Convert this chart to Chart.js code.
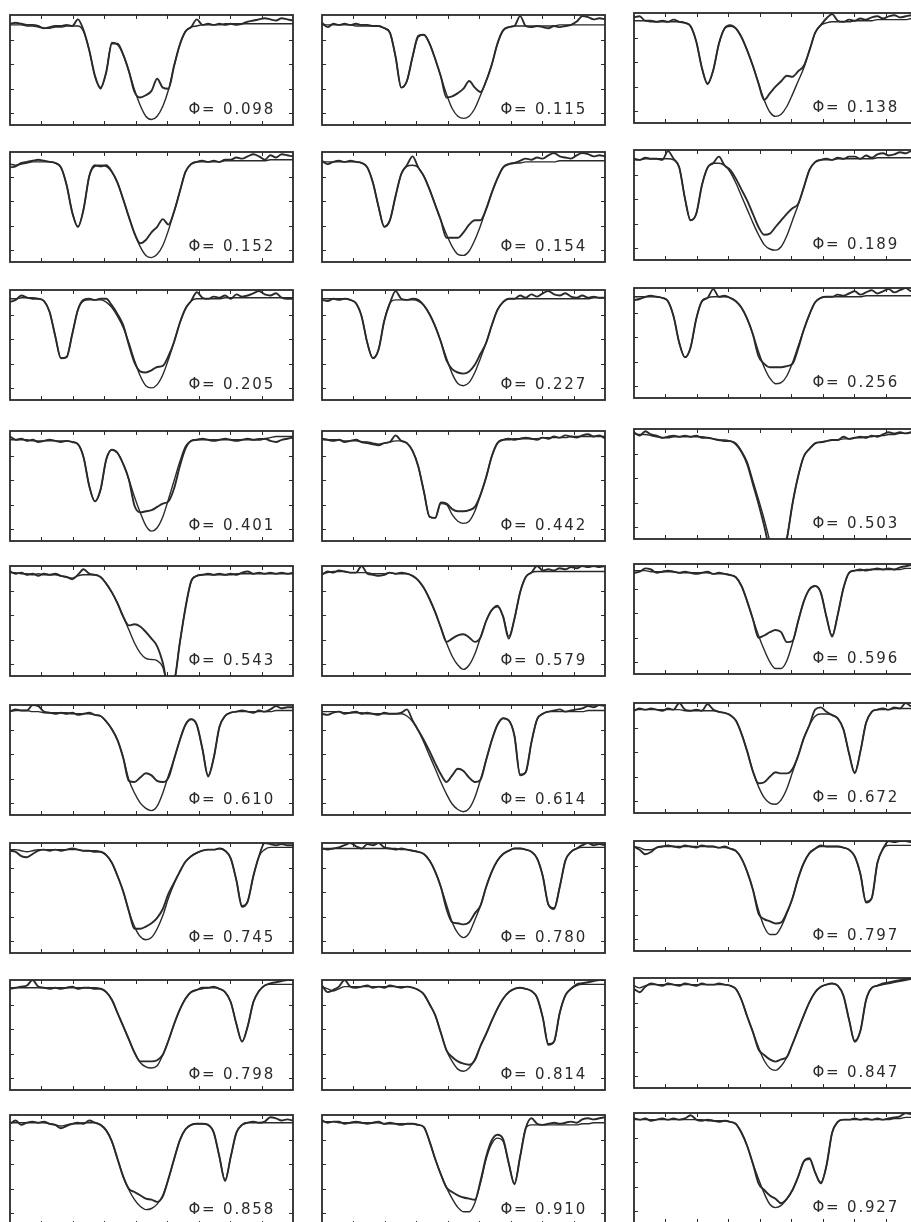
<!DOCTYPE html>
<html>
<head>
<meta charset="utf-8">
<script src="https://cdn.jsdelivr.net/npm/chart.js@4.4.0/dist/chart.umd.min.js"></script>
<style>
html,body{margin:0;padding:0;background:#ffffff;overflow:hidden;width:911px;height:1222px;}
canvas{position:absolute;}
</style>
</head>
<body>
<script>
// velocity grid (km/s) shared by every panel
const velocity = [-450,-432,-414,-396,-378,-360,-342,-324,-306,-288,-270,-252,-234,-216,-198,-180,-162,-144,-126,-108,-90,-72,-54,-36,-18,0,18,36,54,72,90,108,126,144,162,180,198,216,234,252,270,288,306,324,342,360,378,396,414,432,450];
const xTicks = [-350,-250,-150,-50,50,150,250,350];
const yTicks = [11,33,55,77];
const phases = ['0.098','0.115','0.138','0.152','0.154','0.189','0.205','0.227','0.256','0.401','0.442','0.503','0.543','0.579','0.596','0.610','0.614','0.672','0.745','0.780','0.797','0.798','0.814','0.847','0.858','0.910','0.927'];

// model (m) and observed (o) normalised profiles, % of panel height
const m098 = [91,91,91,90,90,89,88,88,89,89, 90,90,90,85,68,44,33,48,75,73, 64,49,32,18,8,5,8,17,32,54, 73,85,89,90,91,91,91,91,92,92, 92,92,92,92,92,92,92,92,92,92, 92];
const o098 = [92,93,92,91,91,90,88,89,90,90, 91,90,96,86,68,45,34,48,74,74, 64,49,30,25,27,31,42,34,33,54, 73,85,89,96,91,92,91,92,91,92, 91,92,94,95,96,97,96,95,97,96, 95];
const m115 = [91,91,91,91,91,91,90,90,90,90, 90,88,84,62,34,40,62,80,82,74, 60,44,28,15,8,6,8,15,27,40, 55,74,86,89,90,90,90,90,90,90, 90,90,91,91,91,91,91,91,91,91, 91];
const o115 = [93,89,92,91,92,91,92,91,91,90, 90,88,84,62,34,40,62,81,82,74, 60,44,25,26,29,33,40,34,30,40, 55,74,86,89,90,99,90,89,90,89, 88,90,89,90,91,94,99,98,96,97, 96];
const m138 = [93,93,93,92,92,92,92,92,92,91, 88,74,50,35,48,72,86,88,86,78, 66,52,36,21,10,6,8,15,26,38, 50,66,82,89,91,92,92,92,92,93, 93,93,93,94,94,94,94,94,94,95, 95];
const o138 = [96,97,93,93,92,93,92,94,92,91, 88,74,50,36,48,72,86,89,86,78, 66,52,36,21,27,33,38,43,42,47, 52,66,82,89,95,99,93,92,94,93, 95,94,96,97,95,97,98,96,97,98, 98];
const m152 = [89,88,89,90,91,91,91,91,90,86, 70,45,32,48,78,87,88,87,82,72, 57,41,26,14,6,4,7,15,29,46, 64,82,89,91,91,91,91,91,92,92, 92,92,92,92,92,92,93,93,93,93, 93];
const o152 = [86,87,90,91,92,93,92,91,90,86, 70,45,32,48,78,88,87,88,82,72, 57,41,26,17,20,27,32,39,34,46, 64,82,89,91,92,91,92,91,93,93, 95,94,96,98,96,93,97,95,98,97, 96];
const m154 = [91,91,91,91,91,91,91,90,86,72, 50,32,38,60,80,87,88,86,78,66, 52,38,25,14,7,6,10,20,33,48, 63,76,86,89,90,90,91,91,91,91, 91,91,92,92,92,92,92,92,92,92, 92];
const o154 = [92,89,91,92,91,92,91,90,86,72, 50,32,38,60,80,88,96,86,78,66, 52,38,22,22,22,27,34,38,38,48, 63,76,86,89,90,92,94,93,95,94, 97,99,96,95,94,97,99,98,96,97, 96];
const m189 = [91,91,92,92,92,92,92,91,84,56, 36,42,68,84,88,88,86,80,70,58, 46,34,23,14,10,9,12,22,36,50, 66,82,89,91,91,91,92,92,92,92, 92,92,92,93,93,93,93,93,93,93, 93];
const o189 = [92,91,93,92,92,91,99,92,84,56, 36,42,68,84,88,94,86,82,74,64, 54,42,30,23,24,30,36,42,47,51, 66,82,89,91,92,91,93,92,94,94, 92,95,93,96,97,95,96,98,97,99, 97];
const m205 = [92,92,93,93,93,92,90,80,58,38, 39,60,82,90,91,91,91,89,84,76, 66,52,36,22,13,11,14,23,37,53, 70,83,90,92,92,92,92,92,93,93, 93,93,93,93,93,93,93,93,93,93, 93];
const o205 = [89,91,95,93,92,92,90,80,58,38, 39,60,82,91,92,91,92,92,86,78, 68,50,34,26,25,27,30,31,40,53, 70,83,90,98,93,92,94,93,95,92, 96,94,95,97,99,96,95,97,93,92, 92];
const m227 = [92,92,92,92,92,91,88,76,52,38, 46,72,88,91,91,91,91,90,86,78, 67,53,38,24,15,13,16,25,38,52, 68,82,89,92,92,92,92,92,92,92, 92,92,92,92,92,92,92,92,93,93, 93];
const o227 = [91,90,92,91,92,91,88,76,52,38, 46,72,88,99,92,91,92,91,86,78, 67,53,36,28,25,24,26,32,42,52, 68,82,89,92,92,95,93,96,94,97, 99,96,95,97,94,93,95,93,94,93, 93];
const m256 = [92,92,92,92,92,91,88,74,50,37, 46,72,88,91,92,92,92,91,88,82, 72,58,42,28,18,13,14,20,32,47, 62,76,87,91,92,92,92,92,92,92, 92,93,93,93,93,93,93,93,93,93, 93];
const o256 = [89,90,92,93,92,91,88,74,50,37, 46,72,88,91,99,92,93,91,88,82, 72,58,38,31,28,28,28,29,31,45, 62,76,87,91,92,92,94,93,95,97, 94,96,98,95,97,99,96,98,100,97, 98];
const m401 = [92,92,92,92,91,91,91,91,91,91, 91,90,88,76,50,36,46,74,83,80, 70,56,40,26,14,9,12,22,38,55, 72,86,91,92,92,92,92,92,92,92, 92,92,92,92,93,93,94,95,95,95, 95];
const o401 = [95,92,93,91,92,90,91,92,91,90, 91,90,88,76,50,36,47,74,83,80, 70,56,32,26,27,28,31,34,36,48, 68,84,91,92,93,92,91,92,93,92, 91,92,93,92,92,93,91,90,92,93, 94];
const m442 = [92,92,92,92,91,91,91,90,90,89, 88,89,90,91,91,89,82,68,45,22, 21,34,33,24,18,16,18,27,42,58, 77,89,92,92,93,93,93,93,93,94, 94,94,94,94,95,95,95,95,95,95, 95];
const o442 = [93,92,91,92,90,91,92,90,89,88, 87,89,90,96,91,89,82,68,45,22, 21,35,34,29,27,27,28,31,42,58, 77,89,92,93,92,93,94,93,92,94, 93,95,94,96,95,94,96,97,95,96, 93];
const m503 = [96,95,95,94,93,92,92,93,93,93, 93,93,93,92,91,90,90,89,87,80, 70,53,36,18,-2,-20,-20,0,32,57, 75,82,87,88,89,90,90,91,91,92, 92,93,93,94,94,95,95,96,96,97, 97];
const o503 = [97,94,98,95,94,92,93,94,93,94, 93,94,92,92,91,90,89,89,86,79, 68,50,32,12,-10,-20,-20,0,32,57, 75,82,87,88,89,90,90,93,91,92, 93,92,94,93,95,97,96,97,96,97, 98];
const m543 = [94,94,93,93,92,93,92,92,92,91, 90,89,91,92,92,92,90,84,76,66, 54,42,30,21,16,15,14,8,-10,-5, 30,62,86,91,92,92,92,92,92,92, 93,93,93,93,93,93,93,93,93,93, 93];
const o543 = [95,93,94,92,93,91,93,92,93,91, 90,88,92,97,93,92,90,84,76,66, 54,46,47,45,40,34,27,12,-10,-5, 30,62,86,91,92,93,92,93,92,93, 92,94,95,93,94,93,94,93,94,93, 94];
const m579 = [93,94,95,95,95,94,94,94,94,93, 93,93,94,93,93,93,91,87,80,70, 58,44,30,18,10,6,10,20,35,50, 60,63,54,36,52,76,90,94,95,95, 95,95,95,95,95,95,95,95,95,95, 95];
const o579 = [92,95,94,96,95,94,94,100,93,92, 91,92,94,93,94,93,91,87,80,70, 58,44,31,34,37,38,35,31,35,50, 60,64,54,34,52,76,90,94,100,96, 97,96,98,97,99,98,100,99,100,99, 100];
const m596 = [94,94,94,93,93,93,93,93,92,92, 92,92,92,92,91,91,91,90,88,80, 66,50,35,22,11,5,5,12,28,48, 66,77,80,74,52,35,54,78,92,94, 94,95,95,95,95,95,95,95,96,96, 96];
const o596 = [92,93,96,95,92,93,94,93,92,93, 92,91,92,93,91,92,91,90,88,80, 66,50,33,35,38,40,38,29,30,48, 66,77,80,74,52,34,54,78,92,94, 95,94,95,96,95,96,95,97,98,99, 98];
const m610 = [94,95,95,95,94,94,93,93,93,93, 93,92,92,92,92,91,90,85,78,68, 52,32,20,11,6,4,8,20,36,51, 68,82,87,82,60,36,52,80,90,93, 94,94,94,94,94,94,94,95,95,95, 95];
const o610 = [94,96,95,95,100,99,94,93,92,93, 92,93,91,92,93,91,90,85,78,68, 52,31,30,34,38,36,31,30,34,51, 68,82,87,82,60,35,52,80,90,93, 94,95,94,93,95,94,96,99,97,98, 98];
const m614 = [94,94,94,94,93,93,93,93,92,92, 92,92,92,92,92,90,85,77,66,54, 42,30,19,10,5,3,6,16,32,50, 68,82,88,86,72,37,39,66,87,92, 94,94,94,94,94,94,94,95,95,95, 95];
const o614 = [92,91,93,94,92,93,94,92,93,92, 91,93,92,92,93,96,86,77,68,58, 47,37,30,36,42,40,34,30,32,50, 68,82,88,86,72,36,39,66,87,92, 94,95,96,94,95,96,97,99,98,100, 99];
const m672 = [94,94,94,94,94,94,94,94,94,93, 93,93,93,93,93,92,91,89,84,72, 56,38,24,14,9,8,12,22,37,52, 68,80,88,90,90,89,86,76,54,37, 56,82,92,94,94,94,95,95,95,95, 95];
const o672 = [93,95,94,95,94,93,95,94,100,94, 93,94,93,99,94,92,91,89,84,72, 56,38,27,28,33,37,36,36,40,52, 68,80,94,96,92,89,86,76,54,36, 56,82,92,94,95,94,96,95,100,97, 98];
const m745 = [94,94,93,92,93,94,94,94,94,94, 94,94,94,93,93,93,92,89,82,70, 56,38,24,15,12,14,22,34,50,63, 74,83,88,91,93,94,94,95,93,86, 66,43,47,70,88,94,96,96,96,96, 96];
const o745 = [93,92,88,87,90,93,94,93,94,93, 94,95,94,93,93,92,92,89,82,70, 56,38,22,22,24,27,32,40,54,64, 74,83,88,91,93,94,94,95,93,86, 66,42,47,70,88,100,99,98,99,98, 98];
const m780 = [95,95,95,95,95,95,95,95,95,95, 95,95,95,95,94,94,93,92,90,84, 74,60,44,28,18,14,18,30,43,60, 74,84,90,93,95,95,94,92,86,70, 44,41,60,84,92,95,96,96,96,96, 96];
const o780 = [95,94,95,96,98,100,97,95,99,98, 100,96,95,94,95,94,93,92,90,84, 74,60,40,28,27,26,28,36,43,60, 74,84,90,93,95,95,94,92,86,70, 44,40,60,84,92,95,98,100,98,99, 98];
const m797 = [95,94,92,92,94,95,95,95,95,95, 95,95,95,95,95,94,94,93,91,84, 72,56,37,22,15,15,22,34,48,66, 80,89,93,95,95,95,95,94,92,86, 70,45,48,80,93,96,96,96,96,96, 96];
const o797 = [95,92,88,90,94,95,96,95,94,96, 95,94,96,95,95,94,95,93,91,84, 72,56,34,29,27,25,26,35,48,66, 80,89,93,96,95,95,95,94,92,86, 70,44,48,80,93,100,99,100,100,99, 100];
const m798 = [93,93,93,93,93,93,93,93,93,93, 93,93,93,93,93,93,92,89,82,70, 58,46,34,25,21,20,22,32,45,60, 73,83,89,91,92,93,93,92,89,80, 60,44,58,80,90,95,96,96,96,96, 96];
const o798 = [92,93,94,95,100,94,93,92,93,92, 93,94,92,93,93,92,92,89,82,70, 58,46,34,26,26,26,27,32,45,60, 73,83,89,91,93,93,94,92,89,80, 60,44,58,80,90,95,97,98,99,100, 100];
const m814 = [94,92,90,92,94,94,94,94,94,94, 94,94,94,94,94,94,93,91,87,78, 68,52,36,26,19,17,20,28,40,51, 63,74,83,89,92,93,92,90,84,66, 42,44,70,86,92,95,96,96,96,96, 96];
const o814 = [95,89,91,94,100,94,93,94,95,93, 94,93,95,94,93,94,93,91,87,78, 68,52,36,30,26,24,23,27,40,51, 63,74,83,89,92,93,92,90,84,66, 41,44,70,86,92,96,97,98,99,100, 100];
const m847 = [93,91,93,94,94,94,94,94,94,94, 94,94,94,94,94,94,94,93,90,80, 65,51,37,25,18,16,20,28,40,53, 66,78,87,92,94,95,93,84,62,43, 52,80,91,93,94,95,96,97,98,99, 100];
const o847 = [90,87,92,95,94,93,95,94,93,95, 94,93,95,94,94,95,94,93,90,80, 65,51,35,30,26,24,26,28,40,53, 66,78,87,92,94,95,93,84,62,42, 52,80,91,93,95,96,97,98,99,100, 100];
const m858 = [93,93,93,93,93,93,93,92,91,90, 91,92,92,93,93,93,91,86,76,60, 44,32,23,17,14,15,19,27,42,60, 77,87,91,92,92,91,84,62,41,62, 84,91,93,93,93,93,93,93,93,93, 93];
const o858 = [92,95,91,93,94,93,94,92,91,88, 90,92,93,92,95,93,91,86,76,60, 44,33,30,27,24,23,21,26,42,60, 77,87,91,92,92,91,84,62,40,62, 84,91,93,94,93,94,98,97,95,96, 95];
const m910 = [94,94,94,93,93,93,93,93,93,93, 93,92,92,92,92,92,92,91,89,76, 60,46,34,24,16,12,12,20,38,60, 74,79,76,56,38,62,88,91,91,91, 91,91,91,91,91,91,92,92,93,93, 93];
const o910 = [95,93,94,94,92,93,94,93,92,93, 94,92,93,92,91,92,92,91,89,76, 60,46,34,30,27,25,24,23,40,62, 77,82,78,56,37,62,88,97,92,91, 92,93,92,93,94,93,96,97,96,97, 98];
const m927 = [94,94,94,94,94,94,94,94,94,94, 94,94,94,93,93,93,93,92,90,82, 70,54,40,27,17,14,16,22,30,42, 56,58,46,37,52,82,92,94,94,94, 94,94,94,94,94,94,95,95,96,96, 97];
const o927 = [95,94,95,93,94,95,94,95,94,95, 98,94,93,94,93,92,93,92,90,82, 70,54,36,30,25,22,18,22,30,42, 56,59,46,36,52,82,92,94,94,95, 94,95,94,95,94,95,96,97,100,99, 100];

const models = [m098,m115,m138,m152,m154,m189,m205,m227,m256,m401,m442,m503,m543,m579,m596,m610,m614,m672,m745,m780,m797,m798,m814,m847,m858,m910,m927];
const observed = [o098,o115,o138,o152,o154,o189,o205,o227,o256,o401,o442,o503,o543,o579,o596,o610,o614,o672,o745,o780,o797,o798,o814,o847,o858,o910,o927];

const colLeft = [10, 322, 634];
const rowTop = [15, 152, 290, 431, 566, 705, 843, 980, 1115];
const boxW = 283, boxH = 110;
const ink = '#2a2a2a';

const framePlugin = {
  id: 'frame',
  afterDraw(chart, args, opts) {
    const {ctx, chartArea: a, scales: {x, y}} = chart;
    ctx.save();
    ctx.strokeStyle = ink;
    ctx.lineWidth = 1;
    ctx.beginPath();
    x.ticks.forEach(t => {
      const px = Math.round(x.getPixelForValue(t.value)) + 0.5;
      ctx.moveTo(px, a.bottom); ctx.lineTo(px, a.bottom - 4);
      ctx.moveTo(px, a.top); ctx.lineTo(px, a.top + 4);
    });
    y.ticks.forEach(t => {
      const py = Math.round(y.getPixelForValue(t.value)) + 0.5;
      ctx.moveTo(a.left, py); ctx.lineTo(a.left + 4, py);
      ctx.moveTo(a.right, py); ctx.lineTo(a.right - 4, py);
    });
    ctx.stroke();
    ctx.lineWidth = 1.8;
    ctx.strokeRect(a.left, a.top, a.right - a.left, a.bottom - a.top);
    ctx.fillStyle = '#2a2a2a';
    ctx.font = '15px "DejaVu Sans"';
    ctx.letterSpacing = '1.8px';
    ctx.textAlign = 'right';
    ctx.textBaseline = 'alphabetic';
    ctx.fillText(opts.label, a.right - 18, a.bottom - 11);
    ctx.restore();
  }
};

phases.forEach((ph, i) => {
  const r = Math.floor(i / 3), c = i % 3;
  const cv = document.createElement('canvas');
  cv.width = boxW + 4; cv.height = boxH + 4;
  cv.style.left = (colLeft[c] - 2) + 'px';
  cv.style.top = (rowTop[r] - 2 - (c === 2 ? 2 : 0)) + 'px';
  document.body.appendChild(cv);
  const mod = models[i], obs = observed[i];
  new Chart(cv, {
    type: 'line',
    data: {
      datasets: [
        { data: velocity.map((v, k) => ({x: v, y: mod[k]})), borderColor: ink, borderWidth: 1.4, pointRadius: 0, cubicInterpolationMode: 'monotone' },
        { data: velocity.map((v, k) => ({x: v, y: obs[k]})), borderColor: ink, borderWidth: 1.9, pointRadius: 0, cubicInterpolationMode: 'monotone' }
      ]
    },
    options: {
      responsive: false, animation: false, devicePixelRatio: 1, events: [],
      layout: { padding: 2 },
      scales: {
        x: { type: 'linear', display: false, min: -450, max: 450,
             afterBuildTicks: s => { s.ticks = xTicks.map(v => ({value: v})); } },
        y: { type: 'linear', display: false, min: 0, max: 100,
             afterBuildTicks: s => { s.ticks = yTicks.map(v => ({value: v})); } }
      },
      plugins: { legend: { display: false }, tooltip: { enabled: false }, frame: { label: 'Φ= ' + ph } }
    },
    plugins: [framePlugin]
  });
});
</script>
</body>
</html>
